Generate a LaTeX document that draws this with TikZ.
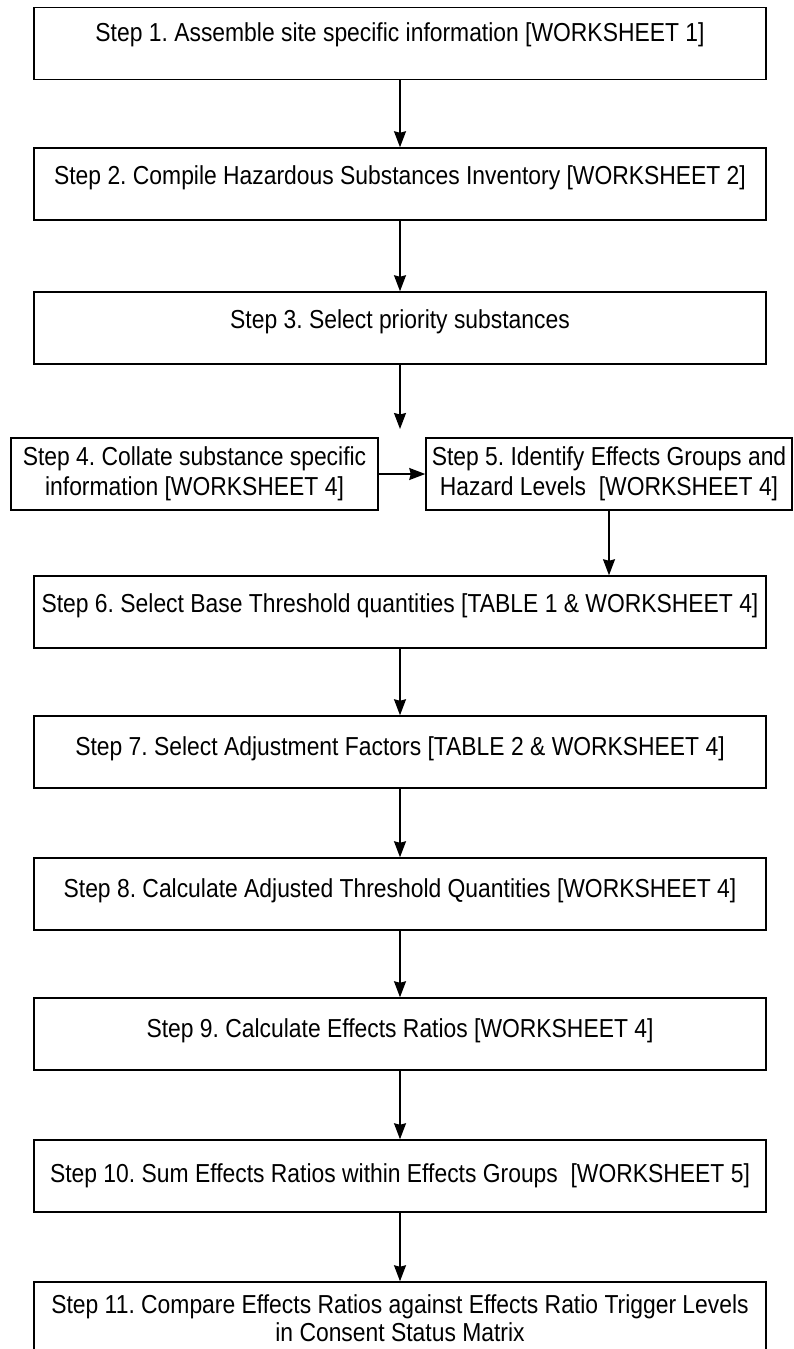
\documentclass[tikz,border=0pt]{standalone}
\usepackage{fontspec}
\setmainfont{Liberation Sans}[FakeStretch=0.88]
\usetikzlibrary{arrows.meta}
\frenchspacing

\begin{document}
\begin{tikzpicture}[x=1pt,y=-1pt,line width=1.5pt,>={Stealth[length=16pt,width=12pt,inset=1.5pt]},
  font=\fontsize{26}{30}\selectfont,
  stepbox/.style={draw,inner sep=0pt,minimum width=732pt,minimum height=72pt},
  halfbox/.style={draw,align=center,inner sep=0pt,minimum width=366pt,minimum height=72pt}]
  \useasboundingbox (0,0) rectangle (793,1349);
  \clip (0,0) rectangle (793,1349);

  \foreach \n/\y/\tht/\lab in {
    1/43.5/34/Step 1. Assemble site specific information [WORKSHEET 1],
    2/184/36/Step 2. Compile Hazardous Substances Inventory [WORKSHEET 2],
    3/328/36/Step 3. Select priority substances,
    6/612/36/Step 6. Select Base Threshold quantities [TABLE 1 \& WORKSHEET 4],
    7/752/39/Step 7. Select Adjustment Factors [TABLE 2 \& WORKSHEET 4],
    8/894/39/Step 8. Calculate Adjusted Threshold Quantities [WORKSHEET 4],
    9/1034/39/Step 9. Calculate Effects Ratios [WORKSHEET 4],
    10/1176/42/Step 10. Sum Effects Ratios within Effects Groups~ [WORKSHEET 5]}
  {
    \pgfmathsetmacro\dep{72-\tht}
    \node[stepbox,text height=\tht pt,text depth=\dep pt] (s\n) at (400,\y) {\lab};
  }

  \node[halfbox,minimum width=367pt] (s4) at (194.5,474) {Step 4. Collate substance specific\\information [WORKSHEET 4]};
  \node[halfbox] (s5) at (609,474) {Step 5. Identify Effects Groups and\\Hazard Levels~ [WORKSHEET 4]};
  \node[halfbox,minimum width=732pt,minimum height=73pt] (s11) at (400,1318.5)
    {Step 11. Compare Effects Ratios against Effects Ratio Trigger Levels\\[-2pt]in Consent Status Matrix};

  \coordinate (split) at (400,429);
  \foreach \a/\b in {1/2,2/3,6/7,7/8,8/9,9/10,10/11}
    \draw[->] (s\a) -- (s\b);
  \draw[->] (s3) -- (split);
  \draw[->] (s4) -- (s5);
  \draw[->] (s5) -- (s5 |- s6.north);
\end{tikzpicture}
\end{document}
